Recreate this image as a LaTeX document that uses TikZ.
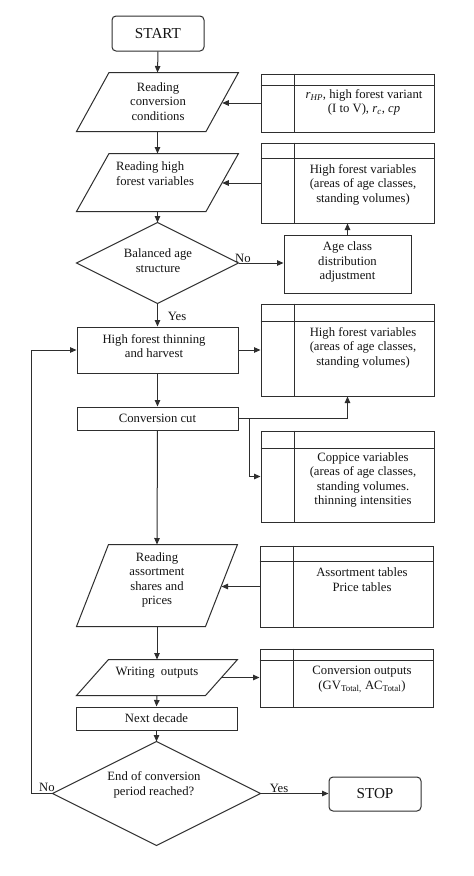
\documentclass[tikz,border=0pt]{standalone}
\usepackage{fontspec}
\setmainfont{Liberation Serif}
\usetikzlibrary{arrows.meta,calc}
\newcommand\mainfs{\fontsize{12.7}{14.5}\selectfont}
\newcommand\bigfs{\fontsize{15.2}{17}\selectfont}
\begin{document}
\begin{tikzpicture}[x=1pt,y=-1pt,
  line width=1pt, color=black!82,
  every node/.style={inner sep=0pt, font=\mainfs, text=black!92},
  arr/.style={-{Triangle[length=6.5pt,width=5.5pt]}},
  term/.style={draw, rounded corners=4pt, font=\bigfs},
  procbox/.style={draw},
  shapebox/.style={},
  txt/.style={align=center},
  lbl/.style={}]
\newcommand\mydata[5]{%
  \node[draw, minimum width=#3, minimum height=#4] (#1) at (#2) {};
  \draw[line width=1.3pt] ($(#1.north west)+(0,#5)$) -- ($(#1.north east)+(0,#5)$);
  \draw[line width=1.3pt] ($(#1.north west)+(34,0)$) -- ($(#1.south west)+(34,0)$);}
\newcommand\mypara[5]{%
  \node[shapebox, minimum width=#3, minimum height=#4] (#1) at (#2) {};
  \draw ($(#1.north west)+(#5,0)$) -- (#1.north east) -- ($(#1.south east)+(-#5,0)$) -- (#1.south west) -- cycle;
  \coordinate (#1r) at ($(#1.east)+(-#5/2,0)$);}
\newcommand\mydiamond[4]{%
  \node[shapebox, minimum width=#3, minimum height=#4] (#1) at (#2) {};
  \draw (#1.north) -- (#1.east) -- (#1.south) -- (#1.west) -- cycle;}

\fill[white] (0,0) rectangle (474,876);
\useasboundingbox (0,0) rectangle (474,876);

% main column
\node[term, minimum width=92, minimum height=35] (start) at (158,33.5) {START};

\mypara{p1}{157.5,102}{161}{58}{32.5}
\node[txt] (p1t) at (158,101.5) {Reading\\conversion\\conditions};

\mypara{p2}{157.5,182.5}{161}{57}{32.5}
\node[txt, align=left] (p2t) at (155,173.5) {Reading high\\forest variables};

\mydiamond{d1}{157.5,263}{161}{80}
\node[txt] (d1t) at (158,260.5) {Balanced age\\structure};

\node[procbox, minimum width=161, minimum height=46] (thin) at (157.5,350) {};
\node[txt] (thint) at (154,346) {High forest thinning\\and harvest};

\node[procbox, minimum width=161, minimum height=23] (conv) at (157.5,418.5) {Conversion cut};

\mypara{p3}{157,585.5}{160}{81}{32}
\node[txt] (p3t) at (157,580) {Reading\\assortment\\shares and\\prices};

\mypara{p4}{157,677.5}{160}{35}{32}
\node[txt] (p4t) at (157,673) {Writing\ \ outputs};

\node[procbox, minimum width=161, minimum height=23] (next) at (156.5,718.5) {Next decade};

\mydiamond{d2}{156.5,793.5}{207}{103}
\node[txt] (d2t) at (154,785) {End of conversion\\period reached?};

\node[term, minimum width=92, minimum height=34] (stop) at (375,794) {STOP};

% right column
\node[procbox, minimum width=127, minimum height=58] (age) at (347.5,264) {};
\node[txt] (aget) at (347.5,262) {Age class\\distribution\\adjustment};

\mydata{D1}{347.5,103}{173}{58}{12}
\node[txt] (D1t) at (364,102.5) {\textit{r}\textsubscript{\textit{HP}}, high forest variant\\(I to V), \textit{r}\textsubscript{\textit{c}}, \textit{cp}};

\mydata{D2}{347.5,183}{173}{80}{16}
\node[txt] (D2t) at (363,184.5) {High forest variables\\(areas of age classes,\\standing volumes)};

\mydata{D3}{347.5,350}{173}{92}{18}
\node[txt] (D3t) at (363,347.5) {High forest variables\\(areas of age classes,\\standing volumes)};

\mydata{D4}{347.5,476.5}{173}{91}{18}
\node[txt] (D4t) at (363,480) {Coppice variables\\(areas of age classes,\\standing volumes.\\thinning intensities};

\mydata{D5}{346.5,586.5}{173}{81}{16}
\node[txt] (D5t) at (362,579.5) {Assortment tables\\Price tables};

\mydata{D6}{346.5,678}{173}{58}{12}
\node[txt] (D6t) at (362,679.5) {Conversion outputs\\(GV\textsubscript{Total,} AC\textsubscript{Total})};

% connectors
\draw[arr] (start.south) -- (p1.north);
\draw[arr] (p1.south) -- (p2.north);
\draw[arr] (p2.south) -- (d1.north);
\draw[arr] (d1.south) -- (thin.north);
\draw[arr] (thin.south) -- (conv.north);
\draw[arr] (conv.south) -- (p3.north);
\draw[arr] (p3.south) -- (p4.north);
\draw[arr] (p4.south) -- (next.north);
\draw[arr] (next.south) -- (d2.north);

\draw[arr] (D1.west) -- (D1.west -| p1r);
\draw[arr] (D2.west) -- (D2.west -| p2r);
\draw[arr] (d1.east) -- (d1.east -| age.west);
\draw[arr] (age.north) -- (age.north |- D2.south);
\draw[arr] (thin.east) -- (thin.east -| D3.west);
\draw[arr] (conv.east) -| (D3.south);
\coordinate (br) at ($(conv.east)+(11,0)$);
\draw[arr] (br) |- (D4.west);
\draw[arr] (D5.west) -- (D5.west -| p3r);
\draw[arr] (p4r) -- (p4r -| D6.west);
\draw[arr] (d2.east) -- (d2.east -| stop.west);
\coordinate (loopc) at (31,793.5);
\draw[arr] (d2.west) -- (loopc) |- (thin.west);

% labels
\node[lbl] (no1) at (243,258) {No};
\node[lbl] (yes1) at (177,316) {Yes};
\node[lbl] (no2) at (47,787) {No};
\node[lbl] (yes2) at (279,788) {Yes};
\end{tikzpicture}
\end{document}
